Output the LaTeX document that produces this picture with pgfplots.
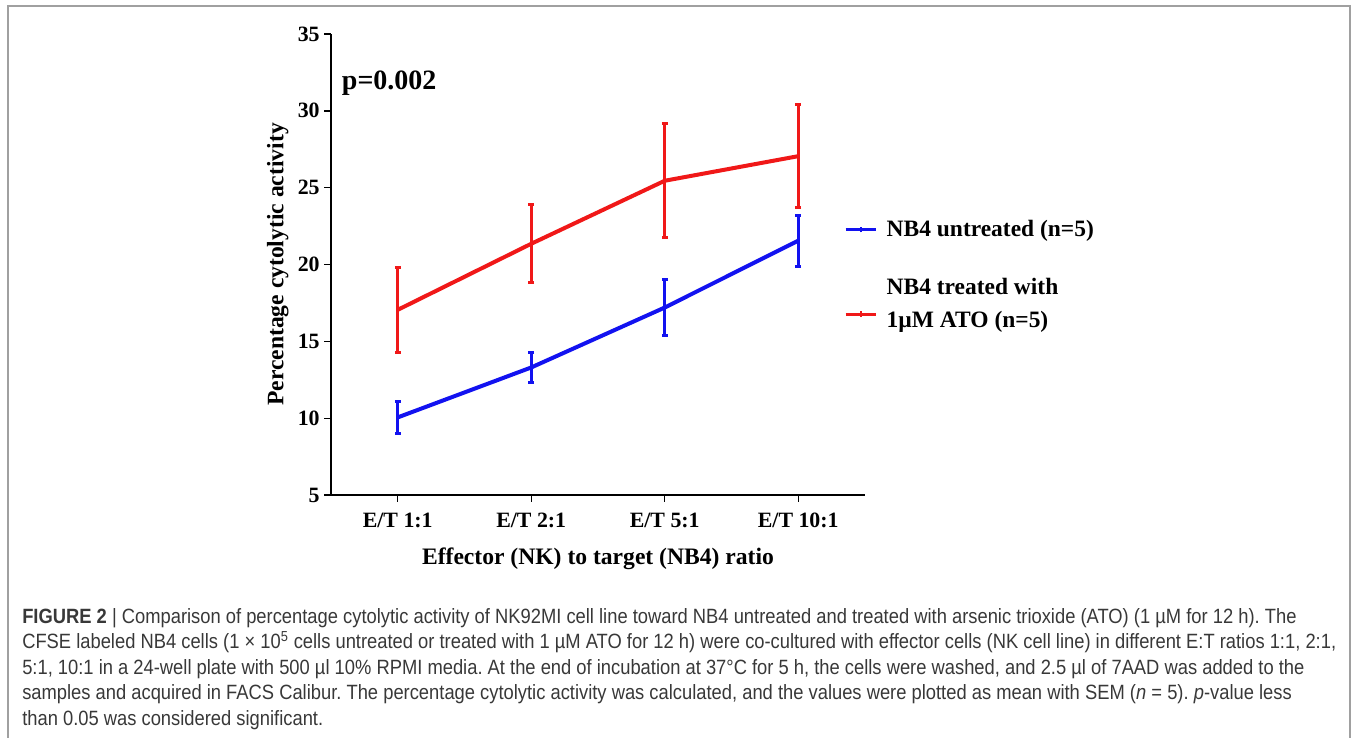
\documentclass[border=0pt]{standalone}
\usepackage{fontspec}
\setmainfont{Liberation Serif}
\newfontfamily\capfont[FakeStretch=0.888]{Liberation Sans}
\usepackage{pgfplots}
\pgfplotsset{compat=1.18}
\definecolor{cblue}{RGB}{18,18,240}
\definecolor{cred}{RGB}{240,24,24}
\definecolor{framegray}{RGB}{160,160,160}
\newcommand{\chartfont}{\fontsize{16.4}{19}\selectfont\bfseries}
\newcommand{\legfont}{\fontsize{17.6}{24.7}\selectfont\bfseries}
\begin{document}
\begin{tikzpicture}
% page = 1357 x 738 px, 1 px = 0.75 pt, origin at top left
\useasboundingbox (0pt,0pt) rectangle (1017.75pt,-553.5pt);
\draw[framegray, line width=0.9pt] (6pt,-560pt) -- (6pt,-4.5pt) -- (1012.5pt,-4.5pt) -- (1012.5pt,-560pt);

\begin{axis}[
  at={(248.25pt,-371.25pt)}, anchor=south west,
  scale only axis, width=400.5pt, height=345.75pt,
  axis x line*=bottom, axis y line*=left,
  axis line style={line width=1pt},
  xmin=-0.5, xmax=3.5, ymin=5, ymax=35,
  xtick={0,1,2,3},
  xticklabels={E/T 1:1, E/T 2:1, E/T 5:1, E/T 10:1},
  ytick={5,10,...,35},
  tick align=outside, major tick length=5pt,
  tick style={line width=1pt, black},
  /pgf/number format/assume math mode=true,
  ticklabel style={font=\chartfont},
  xticklabel style={yshift=-5pt},
  xlabel={Effector (NK) to target (NB4) ratio},
  ylabel={Percentage cytolytic activity},
  label style={font=\fontsize{17.7}{20}\selectfont\bfseries},
  xlabel style={yshift=-8pt},
  ylabel style={yshift=0pt},
  clip=false,
  legend style={draw=none, fill=none, at={(rel axis cs:0.960,0.602)}, anchor=north west,
    font=\legfont, row sep=20.5pt, column sep=5pt, inner sep=0pt},
  legend cell align=left,
  legend image code/.code={
    \draw[#1, line width=2.6pt] (0pt,0pt) -- (22.5pt,0pt);
    \draw[#1, line width=1.4pt] (11.25pt,-2.2pt) -- (11.25pt,2.2pt);
  },
]
\addplot[cblue, line width=3pt, mark=none,
  error bars/.cd, y dir=both, y explicit,
  error bar style={line width=2.2pt},
  error mark options={rotate=90, mark size=2.2pt, line width=2.2pt, cblue}]
  coordinates {
    (0,10.05) +- (0,1.05)
    (1,13.30) +- (0,1.00)
    (2,17.20) +- (0,1.80)
    (3,21.55) +- (0,1.65)
  };
\addlegendentry{NB4 untreated (n=5)}
\addplot[cred, line width=3pt, mark=none, legend image post style={yshift=-6.75pt},
  error bars/.cd, y dir=both, y explicit,
  error bar style={line width=2.2pt},
  error mark options={rotate=90, mark size=2.2pt, line width=2.2pt, cred}]
  coordinates {
    (0,17.05) +- (0,2.75)
    (1,21.35) +- (0,2.55)
    (2,25.45) +- (0,3.70)
    (3,27.05) +- (0,3.35)
  };
\addlegendentry{\begin{tabular}{@{}l@{}}NB4 treated with\\1µM ATO (n=5)\rule[-48pt]{0pt}{0pt}\end{tabular}}
\node[anchor=west, font=\fontsize{21}{24}\selectfont\bfseries, inner sep=0pt] at (axis cs:-0.42,31.8) {p=0.002};
\end{axis}

\node[anchor=north west, inner sep=0pt, align=left, text=black!78,
  font=\capfont\fontsize{15.5}{19.1}\selectfont\frenchspacing] at (16.5pt,-456pt) {%
{\bfseries FIGURE 2} | Comparison of percentage cytolytic activity of NK92MI cell line toward NB4 untreated and treated with arsenic trioxide (ATO) (1 µM for 12 h). The\\
CFSE labeled NB4 cells (1 × 10\textsuperscript{5} cells untreated or treated with 1 µM ATO for 12 h) were co-cultured with effector cells (NK cell line) in different E:T ratios 1:1, 2:1,\\
5:1, 10:1 in a 24-well plate with 500 µl 10\% RPMI media. At the end of incubation at 37°C for 5 h, the cells were washed, and 2.5 µl of 7AAD was added to the\\
samples and acquired in FACS Calibur. The percentage cytolytic activity was calculated, and the values were plotted as mean with SEM (\textit{n} = 5). \textit{p}-value less\\
than 0.05 was considered significant.};
\end{tikzpicture}
\end{document}
